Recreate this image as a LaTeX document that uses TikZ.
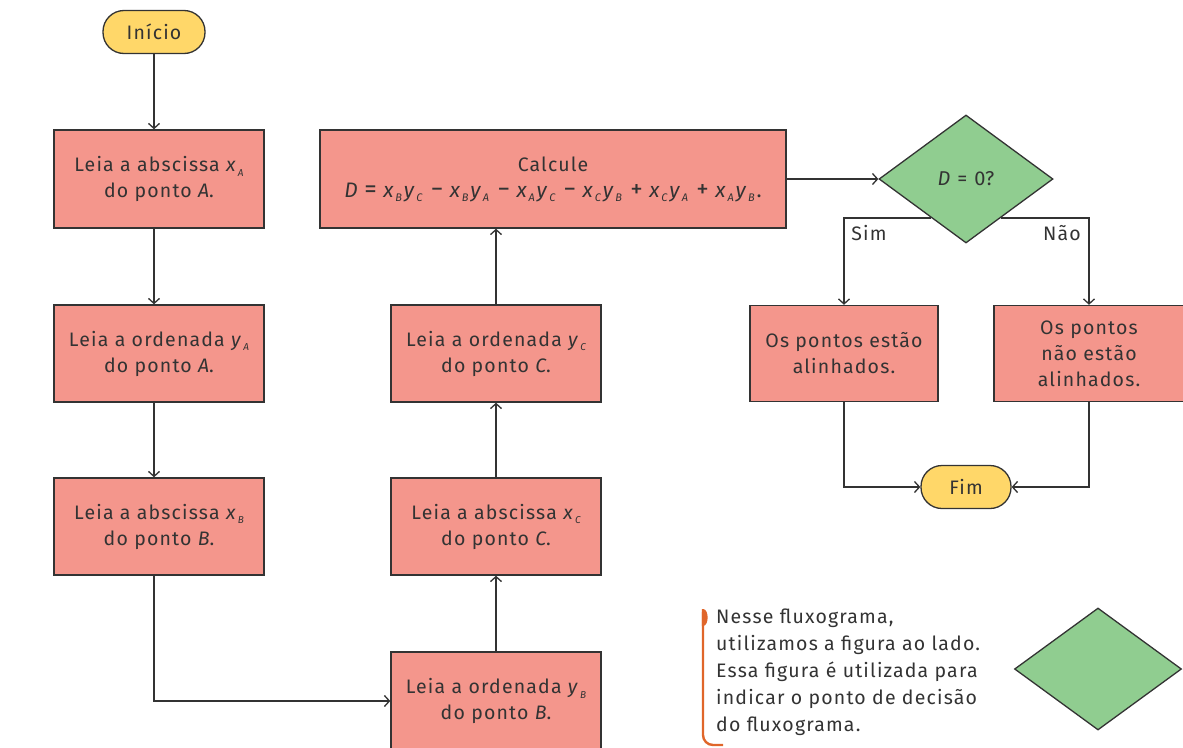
\documentclass[tikz,border=0pt]{standalone}
\usepackage{fontspec}
\setmainfont{Fira Sans}[LetterSpace=6]
\newfontfamily\formfont{Fira Sans}
\usetikzlibrary{shapes.geometric,arrows.meta,calc}
\definecolor{boxpink}{HTML}{F4968C}
\definecolor{decgreen}{HTML}{90CD90}
\definecolor{termyellow}{HTML}{FFD769}
\definecolor{lineg}{HTML}{333333}
\definecolor{noteorange}{HTML}{E0662A}
% subscripts in running text
\newcommand\tsb[1]{\kern1pt\raisebox{-4.5pt}{\fontsize{10}{10}\selectfont\itshape #1}}
% formula pieces
\newcommand\fsb[1]{\kern1.8pt\raisebox{-4pt}{\fontsize{11}{11}\selectfont\itshape #1}\kern1.8pt}
\newcommand\fx[1]{\textit{x}\fsb{#1}}
\newcommand\fy[1]{\textit{y}\fsb{#1}}
\newcommand\fop[1]{\hspace{6.5pt}{\fontsize{25}{25}\selectfont #1}\hspace{6.5pt}}
\newcommand\dop[1]{\hspace{7pt}#1\hspace{7pt}}
\begin{document}
\begin{tikzpicture}[x=1pt,y=-1pt,
  font=\fontsize{19.5}{26}\selectfont, text=lineg,
  stepbox/.style={draw=lineg, line width=1.4pt, fill=boxpink, align=center,
    inner sep=0pt, minimum width=210pt, minimum height=97pt},
  term/.style={draw=lineg, line width=1.3pt, fill=termyellow, rounded corners=21pt,
    inner sep=0pt, minimum height=43pt},
  decision/.style={diamond, draw=lineg, line width=1.3pt, fill=decgreen, inner sep=0pt},
  arr/.style={draw=lineg, line width=1.3pt, -{Straight Barb[length=5pt,width=11pt]}},
  lbl/.style={inner sep=0pt}]
\useasboundingbox (0,0) rectangle (1183,747);

% terminals
\node[term, minimum width=102pt] (inicio) at (154,32) {Início};
\node[term, minimum width=90pt] (fim) at (966,487) {Fim};

% left column
\node[stepbox, minimum height=98pt] (xA) at (159,179) {Leia a abscissa \textit{x}\tsb{A}\\do ponto \textit{A}.};
\node[stepbox] (yA) at (159,353.5) {Leia a ordenada \textit{y}\tsb{A}\\do ponto \textit{A}.};
\node[stepbox] (xB) at (159,526.5) {Leia a abscissa \textit{x}\tsb{B}\\do ponto \textit{B}.};

% middle column
\node[stepbox, minimum height=98pt] (yB) at (496,701) {Leia a ordenada \textit{y}\tsb{B}\\do ponto \textit{B}.};
\node[stepbox] (xC) at (496,526.5) {Leia a abscissa \textit{x}\tsb{C}\\do ponto \textit{C}.};
\node[stepbox] (yC) at (496,353.5) {Leia a ordenada \textit{y}\tsb{C}\\do ponto \textit{C}.};

% calculation
\node[stepbox, minimum width=466pt, minimum height=98pt] (calc) at (553,179)
  {Calcule\\{\formfont\fontsize{21}{26}\selectfont\textit{D}\fop{=}\fx{B}\fy{C}\fop{−}\fx{B}\fy{A}\fop{−}\fx{A}\fy{C}\fop{−}\fx{C}\fy{B}\fop{+}\fx{C}\fy{A}\fop{+}\fx{A}\fy{B}.}};

% decision
\node[decision, minimum width=174pt, minimum height=128pt] (dec) at (966,179) {{\formfont\fontsize{20}{24}\selectfont\textit{D}\dop{=}0?}};

% results
\node[stepbox, minimum width=188pt, minimum height=96pt] (sim) at (844,353.5) {Os pontos estão\\alinhados.};
\node[stepbox, minimum width=190pt, minimum height=96pt] (nao) at (1089,353.5) {Os pontos\\não estão\\alinhados.};

% connectors
\draw[arr] (inicio.south) -- (inicio.south |- xA.north);
\draw[arr] (inicio.south |- xA.south) -- (inicio.south |- yA.north);
\draw[arr] (inicio.south |- yA.south) -- (inicio.south |- xB.north);
\draw[arr] (inicio.south |- xB.south) |- (yB.west);
\draw[arr] (yB.north) -- (xC.south);
\draw[arr] (xC.north) -- (yC.south);
\draw[arr] (yC.north) -- (yC.north |- calc.south);
\draw[arr] (calc.east) -- (dec.west);
\draw[arr] (dec.-132) -| (sim.north);
\draw[arr] (dec.-48) -| (nao.north);
\draw[arr] (sim.south) |- (fim.west);
\draw[arr] (nao.south) |- (fim.east);

\node[lbl] (lsim) at (869,233) {Sim};
\node[lbl] (lnao) at (1062,233) {Não};

% note
\draw[noteorange, line width=2.4pt, rounded corners=10pt] (703,612) -- (703,745) -- (723,745);
\fill[noteorange] (701.8,609) -- (703.5,609) .. controls (709,610) and (709,625) .. (703.5,626) -- (701.8,626) -- cycle;
\node[anchor=north west, align=left, inner sep=0pt, font=\fontsize{19.5}{27}\selectfont] (note) at (716,609)
  {Nesse fluxograma,\\utilizamos a figura ao lado.\\Essa figura é utilizada para\\indicar o ponto de decisão\\do fluxograma.};
\node[decision, minimum width=167pt, minimum height=122pt] (sample) at (1098,669) {};
\end{tikzpicture}
\end{document}
